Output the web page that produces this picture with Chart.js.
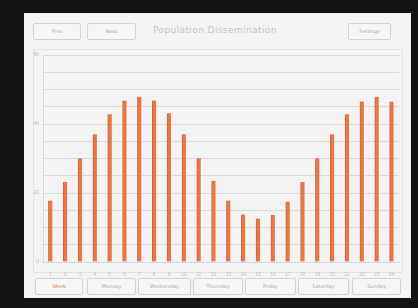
<!DOCTYPE html>
<html>
<head>
<meta charset="utf-8">
<script src="https://cdn.jsdelivr.net/npm/chart.js@4"></script>
<style>
  body { margin: 0; background: #121212; width: 418px; height: 308px; overflow: hidden; font-family: "DejaVu Sans", sans-serif; }
  #win { position: absolute; left: 24px; top: 13px; width: 387px; height: 285px; background: #f3f3f3; }
  .btn { position: absolute; height: 15px; border: 1px solid #d4d4d4; border-radius: 2px; background: #f6f6f6;
         font-size: 5px; color: #aaa; text-align: center; line-height: 15px; }
  #title { position: absolute; left: 129px; top: 12px; font-size: 9px; letter-spacing: 0.4px; color: #c4c4c4; }
  #panel { position: absolute; left: 9px; top: 36px; width: 368px; height: 222px; border: 1px solid #e2e2e2; }
  canvas { position: absolute; left: 0; top: 35px; }
</style>
</head>
<body>
<div id="win">
  <div class="btn" style="left:9px;top:10px;width:46px">Prev</div>
  <div class="btn" style="left:63px;top:10px;width:47px">Next</div>
  <div id="title">Population Dissemination</div>
  <div class="btn" style="left:324px;top:10px;width:41px">Settings</div>
  <div id="panel"></div>
  <canvas id="chart" width="382" height="230"></canvas>
  <div class="btn" style="left:11px;top:265px;width:46px;color:#e0824f">Week</div>
  <div class="btn" style="left:63px;top:265px;width:47px">Monday</div>
  <div class="btn" style="left:114px;top:265px;width:51px">Wednesday</div>
  <div class="btn" style="left:169px;top:265px;width:48px">Thursday</div>
  <div class="btn" style="left:221px;top:265px;width:49px">Friday</div>
  <div class="btn" style="left:274px;top:265px;width:49px">Saturday</div>
  <div class="btn" style="left:328px;top:265px;width:47px">Sunday</div>
</div>
<script>
const labels = ['1', '2', '3', '4', '5', '6', '7', '8', '9', '10', '11', '12',
  '13', '14', '15', '16', '17', '18', '19', '20', '21', '22', '23', '24']
const values = [17.8, 23.2, 30.1, 37.0, 42.8, 46.8, 47.9, 46.8, 43.1, 37.0, 30.1, 23.5,
  17.8, 13.8, 12.6, 13.6, 17.5, 23.2, 30.1, 37.0, 42.8, 46.5, 47.9, 46.5]
const yTickLabels = [0, 20, 40, 60]

const ctx = document.getElementById("chart")

new Chart(ctx, {
  type: 'bar',
  data: {
    labels: labels,
    datasets: [{
      label: 'Population',
      data: values,
      backgroundColor: '#ec7641',
      borderColor: '#c2694c',
      borderWidth: { left: 1, right: 0, top: 0, bottom: 0 },
      barThickness: 4,
    }]
  },
  options: {
    responsive: false,
    animation: false,
    layout: { padding: { top: 5, right: 7, left: 0, bottom: 0 } },
    plugins: {
      legend: { display: false },
      tooltip: { enabled: false },
    },
    scales: {
      x: {
        grid: { display: false },
        border: { color: '#d8d8d8' },
        ticks: { color: '#b9c4cf', font: { size: 5 }, maxRotation: 0, autoSkip: false, padding: 2 },
        afterFit: s => { s.height = 16 },
      },
      y: {
        min: 0,
        max: 60,
        grid: { color: '#dadada', drawTicks: false },
        border: { color: '#d8d8d8' },
        ticks: {
          stepSize: 5,
          color: '#bbb',
          font: { size: 5 },
          padding: 4,
          callback: v => yTickLabels.includes(v) ? v : '',
        },
        afterFit: s => { s.width = 19 },
      }
    }
  }
});
</script>
</body>
</html>
